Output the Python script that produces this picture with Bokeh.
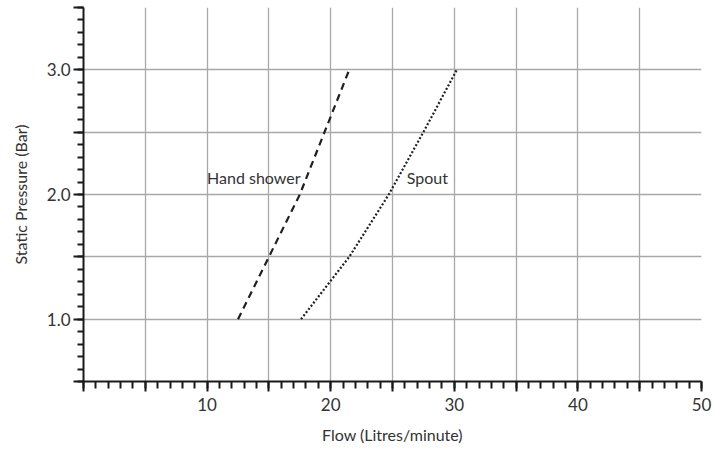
from bokeh.plotting import figure
from bokeh.models import Range1d, FixedTicker, CustomJSTickFormatter, ColumnDataSource
from bokeh.core.properties import value
from bokeh.embed import file_html
from bokeh.resources import INLINE

# Data
hand_flow = [12.5, 15.0, 17.5, 19.5, 21.5]
hand_pressure = [1.0, 1.5, 2.0, 2.5, 3.0]
spout_flow = [17.6, 21.5, 24.7, 27.5, 30.2]
spout_pressure = [1.0, 1.5, 2.0, 2.5, 3.0]

label_text = ["Hand shower", "Spout"]
label_x = [10.0, 26.15]
label_y = [2.135, 2.135]

x_major = [0, 5, 10, 15, 20, 25, 30, 35, 40, 45, 50]
x_minor = list(range(0, 51))
y_major = [0.5, 1.0, 1.5, 2.0, 2.5, 3.0, 3.5]
y_minor = [round(0.5 + 0.1 * i, 1) for i in range(31)]

FONT = "Lato"
TEXT_COLOR = "#333333"
AXIS_COLOR = "#1a1a1a"
GRID_COLOR = "#a8a8a8"

p = figure(width=714, height=450, output_backend="svg", toolbar_location=None,
           x_range=Range1d(0, 50), y_range=Range1d(0.5, 3.5),
           min_border_left=83, min_border_right=13, min_border_top=7,
           min_border_bottom=69)
p.outline_line_color = None
p.background_fill_color = "white"
p.border_fill_color = "white"

# x axis
xa = p.xaxis[0]
xa.ticker = FixedTicker(ticks=x_major, minor_ticks=x_minor)
xa.formatter = CustomJSTickFormatter(code="return (tick > 0 && Math.round(tick) % 10 == 0) ? Math.round(tick).toString() : '';")
xa.axis_label = "Flow (Litres/minute)"
# y axis
ya = p.yaxis[0]
ya.ticker = FixedTicker(ticks=y_major, minor_ticks=y_minor)
ya.formatter = CustomJSTickFormatter(code="return (tick >= 0.99 && Math.abs(tick - Math.round(tick)) < 1e-6) ? tick.toFixed(1) : '';")
ya.axis_label = "Static Pressure (Bar)"

for ax in (xa, ya):
    ax.axis_line_color = AXIS_COLOR
    ax.axis_line_width = 2
    ax.major_tick_line_color = AXIS_COLOR
    ax.major_tick_line_width = 2
    ax.minor_tick_line_color = AXIS_COLOR
    ax.minor_tick_line_width = 2
    ax.major_tick_in = 0
    ax.minor_tick_in = 0
    ax.major_tick_out = 10
    ax.minor_tick_out = 6
    ax.major_label_text_font = FONT
    ax.major_label_text_font_size = "17px"
    ax.major_label_text_color = TEXT_COLOR
    ax.axis_label_text_font = FONT
    ax.axis_label_text_font_size = "16px"
    ax.axis_label_text_font_style = "normal"
    ax.axis_label_text_color = TEXT_COLOR

xa.minor_tick_out = 7
xa.major_label_standoff = 6
xa.axis_label_standoff = 11
ya.major_label_standoff = 3
ya.axis_label_standoff = 14

p.xgrid.ticker = FixedTicker(ticks=x_major)
p.ygrid.ticker = FixedTicker(ticks=y_major)
for g in (p.xgrid[0], p.ygrid[0]):
    g.grid_line_color = GRID_COLOR
    g.grid_line_width = 1.3

p.line(hand_flow, hand_pressure, line_color="#1f1f1f", line_width=2.2, line_dash="7 5")
p.line(spout_flow, spout_pressure, line_color="#1f1f1f", line_width=2.2, line_dash="2 2")

src = ColumnDataSource(dict(x=label_x, y=label_y, t=label_text))
p.text(x="x", y="y", text="t", source=src, text_font=value(FONT), text_font_size="16px",
       text_color=TEXT_COLOR, text_baseline="middle", text_align="left")

open("out.html", "w").write(file_html(p, INLINE))
